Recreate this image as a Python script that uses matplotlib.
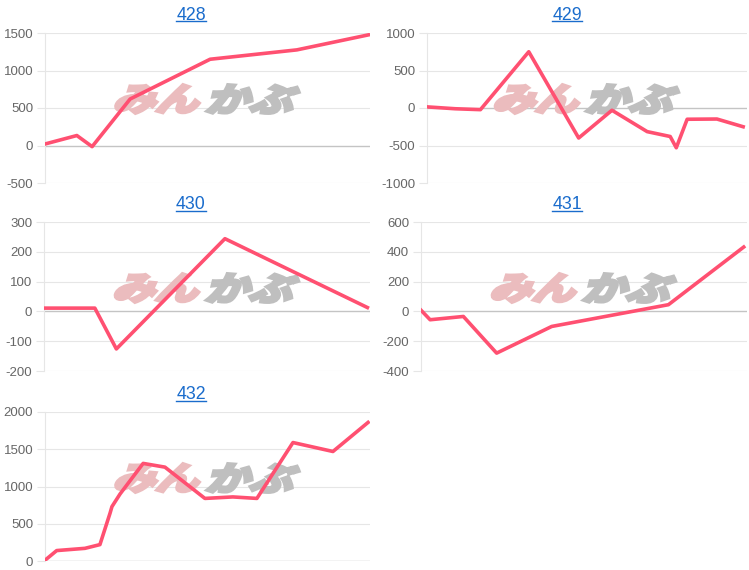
import matplotlib
matplotlib.use("Agg")
import matplotlib.pyplot as plt
from matplotlib.font_manager import FontProperties
from matplotlib.lines import Line2D
from matplotlib.patches import PathPatch
from matplotlib.textpath import TextPath
from matplotlib.transforms import Affine2D, IdentityTransform

plt.rcParams['font.family'] = ['Liberation Sans', 'DejaVu Sans']
plt.rcParams['axes.unicode_minus'] = False

titles = ["428", "429", "430", "431", "432"]

x428 = [0, 9.8, 14.5, 26.2, 50.8, 77.5, 99.5]
y428 = [20, 133, -15, 620, 1150, 1275, 1475]

x429 = [0, 8.8, 16.7, 31.8, 47.4, 57.8, 68.8, 76.0, 77.9, 81.3, 90.6, 98.8]
y429 = [15, -10, -22, 750, -400, -30, -315, -380, -530, -150, -147, -250]

x430 = [0, 15.6, 22.2, 55.5, 99.2]
y430 = [11, 11, -126, 244, 13]

x431 = [0, 2.8, 13.0, 23.2, 40.1, 75.9, 99.0]
y431 = [8, -56, -34, -280, -101, 45, 432]

x432 = [0, 3.6, 12.3, 16.9, 20.0, 20.6, 23.1, 30.2, 36.9, 49.2, 57.8, 65.2, 76.3, 88.6, 99.4]
y432 = [10, 140, 170, 220, 640, 730, 900, 1310, 1260, 840, 860, 840, 1590, 1470, 1860]

ylims = [(-500, 1500), (-1000, 1000), (-200, 300), (-400, 600), (0, 2000)]
ysteps = [500, 500, 100, 200, 500]

W, H = 749, 570
# axes boxes in pixels: left, right, top, bottom
boxes = [(45, 370, 33, 183), (427, 747, 33, 183),
         (44, 370, 222, 371), (421, 747, 222, 371),
         (45, 370, 412, 561)]
title_pos = [(191, 19.5), (567, 19.5), (191, 209.3), (567, 209.3), (191, 399)]

LINE = '#ff5071'
GRID = '#e6e6e6'
ZERO = '#c4c4c4'

fig = plt.figure(figsize=(W / 100, H / 100), dpi=100)

series = [(x428, y428), (x429, y429), (x430, y430), (x431, y431), (x432, y432)]
jp = FontProperties(family='Noto Sans CJK JP', weight='bold')


def watermark(ax, l, r, t, b):
    cx = (l + r) / 2
    top = t + 52
    bot = t + 80
    parts = [("みん", '#ebbcbe', cx - 90, cx - 2), ("かぶ", '#bfbfbf', cx + 3, cx + 94)]
    for s, col, x0, x1 in parts:
        p = TextPath((0, 0), s, size=1, prop=jp)
        e = p.get_extents()
        sx = (x1 - x0) / e.width * 0.93
        sy = (bot - top) / e.height
        tr = (Affine2D().translate(-e.x0, -e.y0).scale(sx, sy)
              .skew_deg(20, 0).translate(x0 - 4, H - bot))
        patch = PathPatch(tr.transform_path(p), facecolor=col, edgecolor=col,
                          linewidth=2.8, joinstyle='miter',
                          transform=IdentityTransform(), zorder=1)
        ax.add_patch(patch)


axes = []
for i, (xs, ys) in enumerate(series):
    l, r, t, b = boxes[i]
    ax = fig.add_axes([l / W, 1 - b / H, (r - l) / W, (b - t) / H])
    lo, hi = ylims[i]
    ax.set_ylim(lo, hi)
    ax.set_xlim(0, 100)
    ticks = list(range(lo, hi + 1, ysteps[i]))
    ax.set_yticks(ticks)
    ax.set_xticks([])
    for v in ticks:
        ax.axhline(v, color=ZERO if v == 0 else GRID, lw=1.0 if v == 0 else 0.8, zorder=0.5)
    for sp in ['top', 'right', 'bottom']:
        ax.spines[sp].set_visible(False)
    ax.spines['left'].set_color(GRID)
    ax.spines['left'].set_linewidth(0.8)
    ax.tick_params(axis='y', length=6, width=0.8, color=GRID, pad=2.5,
                   labelsize=9.5, labelcolor='#666666')
    ax.plot(xs, ys, color=LINE, lw=2.6, solid_joinstyle='round', zorder=3)
    watermark(ax, l, r, t, b)
    axes.append(ax)

texts = []
for i, name in enumerate(titles):
    x, y = title_pos[i]
    texts.append(fig.text(x / W, 1 - y / H, name, ha='center', va='baseline',
                          fontsize=12.8, color='#1a6ccc'))

fig.canvas.draw()
renderer = fig.canvas.get_renderer()
for tx in texts:
    bb = tx.get_window_extent(renderer)
    base = tx.get_transform().transform(tx.get_position())[1]
    fig.add_artist(Line2D([bb.x0, bb.x1], [base - 1.6, base - 1.6], color='#1a6ccc',
                          lw=1.0, transform=IdentityTransform()))

fig.savefig('out.png', dpi=100)
